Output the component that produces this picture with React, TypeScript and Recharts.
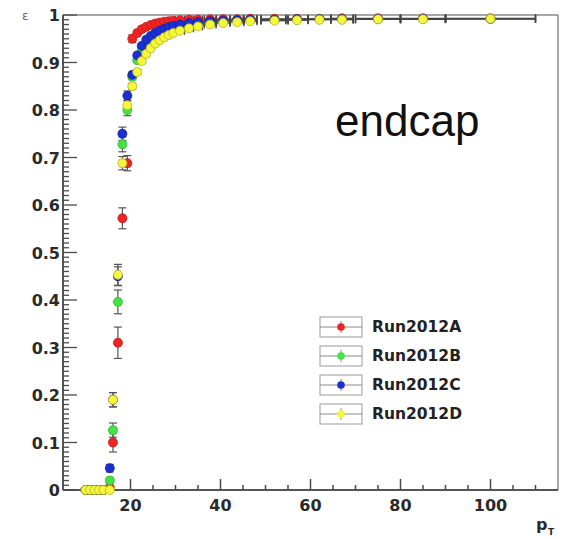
import React from 'react';
import { ScatterChart, Scatter, XAxis, YAxis, ErrorBar, ReferenceLine, Legend } from 'recharts';

// pT bin centres and half widths (GeV)
const ptBins = [10, 11, 12, 13, 14, 15.4, 16.1, 17.2, 18.2, 19.3, 20.4, 21.5, 22.5, 23.5, 24.5, 25.5, 26.5, 27.5, 28.5, 29.5, 31, 33, 35, 37.7, 40.6, 43.7, 46.6, 52, 57, 62, 67, 75, 85, 100];
const ptHalfWidth = [0.5, 0.5, 0.5, 0.5, 0.5, 0.5, 0.5, 0.5, 0.5, 0.5, 0.5, 0.5, 0.5, 0.5, 0.5, 0.5, 0.5, 0.5, 0.5, 0.5, 1, 1, 1, 1.3, 1.5, 1.5, 1.5, 3, 2.5, 2.5, 2.5, 5, 5, 10];

// efficiencies
const effRun2012A = [0, 0, 0, 0, 0, 0.005, 0.1, 0.31, 0.572, 0.688, 0.95, 0.962, 0.97, 0.975, 0.979, 0.982, 0.984, 0.986, 0.987, 0.988, 0.989, 0.99, 0.99, 0.991, 0.991, 0.991, 0.992, 0.992, 0.992, 0.992, 0.993, 0.993, 0.993, 0.993];
const effRun2012B = [0, 0, 0, 0, 0, 0.02, 0.126, 0.396, 0.728, 0.8, 0.87, 0.905, 0.925, 0.94, 0.95, 0.957, 0.962, 0.967, 0.97, 0.973, 0.977, 0.98, 0.982, 0.985, 0.987, 0.988, 0.989, 0.99, 0.99, 0.991, 0.991, 0.991, 0.992, 0.992];
const effRun2012C = [0, 0, 0, 0, 0, 0.046, 0.19, 0.45, 0.75, 0.83, 0.874, 0.915, 0.935, 0.948, 0.956, 0.962, 0.967, 0.971, 0.974, 0.977, 0.98, 0.983, 0.985, 0.987, 0.988, 0.989, 0.99, 0.99, 0.991, 0.991, 0.991, 0.992, 0.992, 0.992];
const effRun2012D = [0, 0, 0, 0, 0, 0, 0.19, 0.453, 0.688, 0.81, 0.85, 0.88, 0.903, 0.918, 0.93, 0.94, 0.947, 0.953, 0.958, 0.962, 0.967, 0.972, 0.976, 0.98, 0.983, 0.985, 0.987, 0.988, 0.989, 0.99, 0.99, 0.991, 0.991, 0.992];

// statistical uncertainties
const errRun2012A = [0, 0, 0, 0, 0, 0.004, 0.02, 0.033, 0.022, 0.016, 0.008, 0.006, 0.005, 0.004, 0.004, 0.004, 0.003, 0.003, 0.003, 0.003, 0.003, 0.003, 0.003, 0.003, 0.003, 0.003, 0.003, 0.003, 0.003, 0.003, 0.003, 0.003, 0.003, 0.003];
const errRun2012B = [0, 0, 0, 0, 0, 0.006, 0.015, 0.025, 0.016, 0.012, 0.006, 0.005, 0.004, 0.004, 0.003, 0.003, 0.003, 0.003, 0.003, 0.003, 0.003, 0.003, 0.003, 0.003, 0.003, 0.003, 0.003, 0.003, 0.003, 0.003, 0.003, 0.003, 0.003, 0.003];
const errRun2012C = [0, 0, 0, 0, 0, 0.008, 0.015, 0.02, 0.014, 0.01, 0.006, 0.005, 0.004, 0.004, 0.003, 0.003, 0.003, 0.003, 0.003, 0.003, 0.003, 0.003, 0.003, 0.003, 0.003, 0.003, 0.003, 0.003, 0.003, 0.003, 0.003, 0.003, 0.003, 0.003];
const errRun2012D = [0, 0, 0, 0, 0, 0, 0.015, 0.022, 0.014, 0.01, 0.006, 0.005, 0.004, 0.004, 0.003, 0.003, 0.003, 0.003, 0.003, 0.003, 0.003, 0.003, 0.003, 0.003, 0.003, 0.003, 0.003, 0.003, 0.003, 0.003, 0.003, 0.003, 0.003, 0.003];

const seriesNames = ['Run2012A', 'Run2012B', 'Run2012C', 'Run2012D'];
const seriesEff = [effRun2012A, effRun2012B, effRun2012C, effRun2012D];
const seriesErr = [errRun2012A, errRun2012B, errRun2012C, errRun2012D];
const seriesFill = ['#ee2424', '#44e344', '#1c2ed6', '#f6f63a'];
const seriesEdge = ['#c81a1a', '#30bb30', '#15229f', '#b5b52a'];

const X_MIN = 5;
const X_MAX = 115;
const xMajorTicks = [20, 40, 60, 80, 100];
const yMajorTicks = [0, 0.1, 0.2, 0.3, 0.4, 0.5, 0.6, 0.7, 0.8, 0.9, 1];
const yMajorLabels = ['0', '0.1', '0.2', '0.3', '0.4', '0.5', '0.6', '0.7', '0.8', '0.9', '1'];

const xAllTicks: number[] = [];
for (let v = 10; v <= 110; v += 5) xAllTicks.push(v);
const yAllTicks: number[] = [];
for (let i = 0; i <= 100; i++) yAllTicks.push(Number((i / 100).toFixed(2)));

// tick marks placed through the chart scales (ROOT-style, pointing into the frame)
const yTickMarks = yAllTicks.map((v, i) => ({ x: X_MIN, y: v, len: i % 10 === 0 ? 14 : 6, dir: 'y' }));
const xTickMarks = xAllTicks.map((v) => ({ x: v, y: 0, len: xMajorTicks.includes(v) ? 11 : 5, dir: 'x' }));

const buildSeries = (k: number) =>
  ptBins.map((x, i) => ({ x, y: seriesEff[k][i], ex: ptHalfWidth[i], ey: seriesErr[k][i] }));

const tickFont = { fontFamily: 'DejaVu Sans', fontWeight: 'bold' as const, fontSize: 16, fill: '#2a2a2a' };

const renderXLabel = (props: any) => {
  const { x, y, payload } = props;
  return (
    <text key={`xl-${payload.value}`} x={Number(x)} y={Number(y) + 21} textAnchor="middle" {...tickFont}>
      {payload.value}
    </text>
  );
};

const renderYLabel = (props: any) => {
  const { x, y, index } = props;
  return (
    <text key={`yl-${index}`} x={Number(x) - 3} y={Number(y) + 6} textAnchor="end" {...tickFont}>
      {yMajorLabels[index]}
    </text>
  );
};

const tickMarkShape = (p: any) => {
  const cx = Number(p.cx);
  const cy = Number(p.cy);
  const d = p.payload || {};
  const len = Number(d.len) || 6;
  if (d.dir === 'y') {
    return <path d={`M${cx},${cy}H${cx + len}`} stroke="#4a4a4a" strokeWidth={1.3} fill="none" />;
  }
  return <path d={`M${cx},${cy}V${cy - len}`} stroke="#4a4a4a" strokeWidth={1.5} fill="none" />;
};

const renderLegend = () => (
  <div style={{ fontFamily: 'DejaVu Sans', fontWeight: 'bold', fontSize: 15.5, color: '#222' }}>
    {seriesNames.map((n, i) => (
      <div key={n} style={{ display: 'flex', alignItems: 'center', height: 29 }}>
        <svg width={44} height={22} style={{ display: 'block' }}>
          <rect x={1} y={1} width={42} height={20} fill="none" stroke="#9a9a9a" />
          <line x1={1} x2={43} y1={11} y2={11} stroke="#8a8a8a" />
          <line x1={22} x2={22} y1={5} y2={17} stroke="#8a8a8a" />
          <circle cx={22} cy={11} r={3.8} fill={seriesFill[i]} />
        </svg>
        <span style={{ marginLeft: 9 }}>{n}</span>
      </div>
    ))}
  </div>
);

export default function App() {
  return (
    <div style={{ position: 'absolute', left: 0, top: 0, width: 565, height: 539, background: '#fff' }}>
      <ScatterChart width={565} height={539} margin={{ top: 15, right: 7, left: 0, bottom: 0 }}>
        <XAxis
          type="number"
          dataKey="x"
          domain={[X_MIN, X_MAX]}
          ticks={xMajorTicks}
          interval={0}
          height={49}
          tickSize={0}
          tickMargin={0}
          tickLine={false}
          axisLine={{ stroke: '#555', strokeWidth: 2 }}
          tick={renderXLabel}
        />
        <YAxis
          type="number"
          dataKey="y"
          domain={[0, 1]}
          ticks={yMajorTicks}
          interval={0}
          width={63}
          tickSize={0}
          tickMargin={0}
          tickLine={false}
          axisLine={{ stroke: '#555', strokeWidth: 2 }}
          tick={renderYLabel}
        />
        {/* frame top and right */}
        <ReferenceLine y={1} stroke="#8a8a8a" strokeWidth={1.5} />
        <ReferenceLine x={X_MAX} stroke="#8a8a8a" strokeWidth={1.5} />
        {/* tick marks */}
        <Scatter name="yticks" data={yTickMarks} legendType="none" isAnimationActive={false} shape={tickMarkShape} />
        <Scatter name="xticks" data={xTickMarks} legendType="none" isAnimationActive={false} shape={tickMarkShape} />
        {seriesNames.map((n, k) => (
          <Scatter
            key={n}
            name={n}
            data={buildSeries(k)}
            isAnimationActive={false}
            shape={(p: any) => (
              <circle cx={p.cx} cy={p.cy} r={4.5} fill={seriesFill[k]} stroke={seriesEdge[k]} strokeWidth={0.8} />
            )}
          >
            <ErrorBar dataKey="ex" direction="x" width={4} stroke="#444" strokeWidth={1.3} isAnimationActive={false} />
            <ErrorBar dataKey="ey" direction="y" width={4} stroke="#555" strokeWidth={1.2} isAnimationActive={false} />
          </Scatter>
        ))}
        <Legend
          layout="vertical"
          align="center"
          verticalAlign="middle"
          content={renderLegend}
          wrapperStyle={{ position: 'absolute', left: 319, top: 312, width: 'auto', height: 'auto' }}
        />
      </ScatterChart>
      <svg width={565} height={539} style={{ position: 'absolute', left: 0, top: 0, pointerEvents: 'none' }}>
        <text x={335} y={136} fontFamily="Liberation Sans" fontSize={44} fill="#111">
          endcap
        </text>
        <text x={22} y={20} fontFamily="DejaVu Sans" fontSize={12} fill="#666">
          ε
        </text>
        <text x={536} y={530} fontFamily="DejaVu Sans" fontWeight="bold" fontSize={16} fill="#2a2a2a">
          p
        </text>
        <text x={548} y={535} fontFamily="DejaVu Sans" fontWeight="bold" fontSize={9} fill="#2a2a2a">
          T
        </text>
      </svg>
    </div>
  );
}
